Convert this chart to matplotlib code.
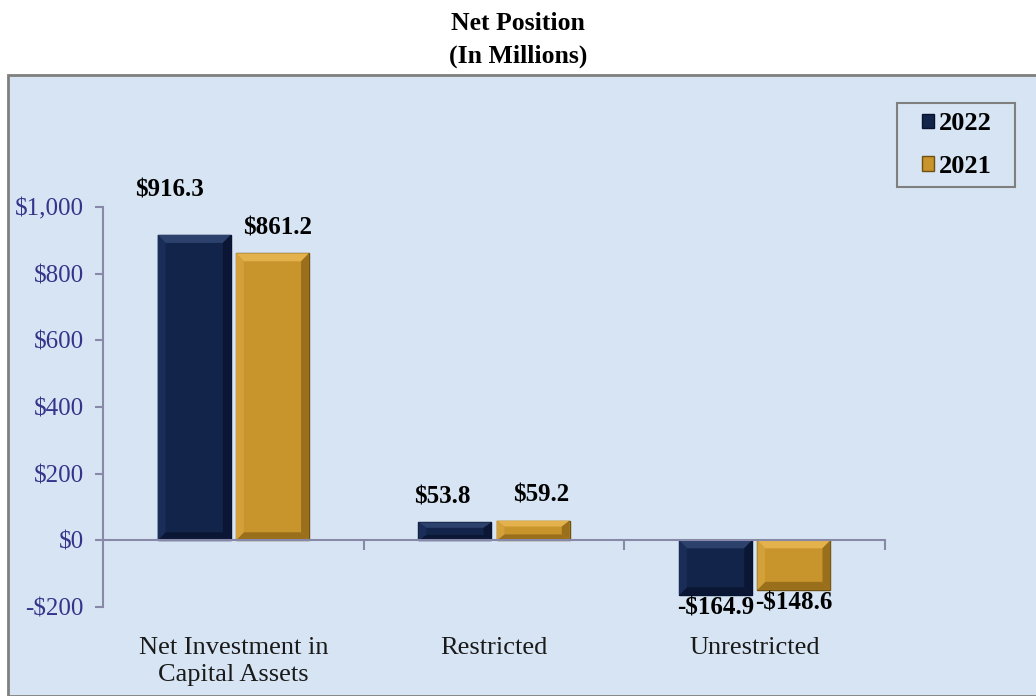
import numpy as np
import matplotlib.pyplot as plt
from matplotlib.patches import Rectangle, Polygon

## données
categories = ['Net Investment in\nCapital Assets', 'Restricted', 'Unrestricted']
years = ['2022', '2021']
v2022 = [916.3, 53.8, -164.9]
v2021 = [861.2, 59.2, -148.6]
yticks = [-200, 0, 200, 400, 600, 800, 1000]

navy = '#13244a'
gold = '#c8942c'
bg = '#d6e4f3'
serif = ['Liberation Serif', 'DejaVu Serif']

fig = plt.figure(figsize=(10.36, 6.96), dpi=100)
W, H = 1036, 696

# fond du panneau
fig.patches.append(Rectangle((8/W, 0), 1, (H-75)/H, transform=fig.transFigure,
                             facecolor=bg, edgecolor='#7f7f7f', linewidth=2, zorder=-1))

fig.text(518/W, 1-23/H, 'Net Position', ha='center', va='center',
         fontsize=18.5, fontweight='bold', family=serif)
fig.text(518/W, 1-56/H, '(In Millions)', ha='center', va='center',
         fontsize=18.5, fontweight='bold', family=serif)

ax = fig.add_axes([103/W, (H-607)/H, (885-103)/W, (607-207)/H])
ax.set_facecolor('none')

x = np.arange(len(categories))
w = 0.28
off = 0.15
b1 = ax.bar(x-off, v2022, w, color=navy, edgecolor='#081230', linewidth=1.0, label=years[0])
b2 = ax.bar(x+off, v2021, w, color=gold, edgecolor='#6e5010', linewidth=1.0, label=years[1])

# effet biseau
def bevel(r, top_c, bot_c, side_c):
    x0, y0 = r.get_x(), r.get_y()
    ww, hh = r.get_width(), r.get_height()
    x1 = x0 + ww
    ylo, yhi = min(y0, y0+hh), max(y0, y0+hh)
    bx = 0.03
    by = min(24, (yhi-ylo)*0.3)
    ax.add_patch(Polygon([(x0, yhi), (x1, yhi), (x1-bx, yhi-by), (x0+bx, yhi-by)],
                         closed=True, facecolor=top_c, edgecolor='none'))
    ax.add_patch(Polygon([(x0, ylo), (x1, ylo), (x1-bx, ylo+by), (x0+bx, ylo+by)],
                         closed=True, facecolor=bot_c, edgecolor='none'))
    ax.add_patch(Polygon([(x1, ylo), (x1, yhi), (x1-bx, yhi-by), (x1-bx, ylo+by)],
                         closed=True, facecolor=bot_c, edgecolor='none'))
    ax.add_patch(Polygon([(x0, ylo), (x0, yhi), (x0+bx, yhi-by), (x0+bx, ylo+by)],
                         closed=True, facecolor=side_c, edgecolor='none'))

for r in b1:
    bevel(r, '#2c416c', '#0a1633', '#1a2d58')
for r in b2:
    bevel(r, '#e3b24c', '#9a6f1c', '#d4a03a')

def fmt(v):
    return ('-$%.1f' % -v) if v < 0 else ('$%.1f' % v)

# décalages des étiquettes (points)
dx = [[-18, -9, 0], [4, 6, 0]]
dy = [[24, 10, -1], [10, 10, -1]]
for k, (bars, vals) in enumerate(((b1, v2022), (b2, v2021))):
    for j, (r, v) in enumerate(zip(bars, vals)):
        cx = r.get_x() + r.get_width()/2
        ax.annotate(fmt(v), (cx, v), xytext=(dx[k][j], dy[k][j]), textcoords='offset points',
                    ha='center', va='bottom' if v >= 0 else 'top',
                    fontsize=18, fontweight='bold', family=serif)

ax.set_xlim(-0.5, 2.5)
ax.set_ylim(-200, 1000)
ax.set_yticks(yticks)
ax.set_yticklabels(['-$200' if t < 0 else '${:,}'.format(t) for t in yticks],
                   family=serif, fontsize=18, color='#34348a')
ax.tick_params(axis='y', length=6, color='#8888a8', width=1.5, pad=8)

ax.spines['top'].set_visible(False)
ax.spines['right'].set_visible(False)
ax.spines['bottom'].set_position(('data', 0))
for s in ('left', 'bottom'):
    ax.spines[s].set_color('#8888a8')
    ax.spines[s].set_linewidth(1.5)
ax.set_xticks([0.5, 1.5, 2.5])
ax.set_xticklabels([])
ax.tick_params(axis='x', length=7, color='#8888a8', width=1.5, direction='out')

for i, c in enumerate(categories):
    ax.text(i, -0.075, c, transform=ax.get_xaxis_transform(), ha='center', va='top',
            fontsize=19, family=serif, linespacing=1.3, color='#1a1a1a')

# légende
fig.patches.append(Rectangle((897/W, 1-187/H), 118/W, 84/H, transform=fig.transFigure,
                             facecolor=bg, edgecolor='#7f7f7f', linewidth=1.5, zorder=3))
leg = fig.legend(handles=[b1, b2], labels=years, loc='center',
                 bbox_to_anchor=(957/W, 1-145/H), borderaxespad=0, frameon=False,
                 prop={'family': serif, 'weight': 'bold', 'size': 19},
                 handlelength=0.45, handleheight=0.45, handletextpad=0.2,
                 labelspacing=0.75, borderpad=0.3)
leg.set_zorder(4)

fig.savefig('out.png', dpi=100)
